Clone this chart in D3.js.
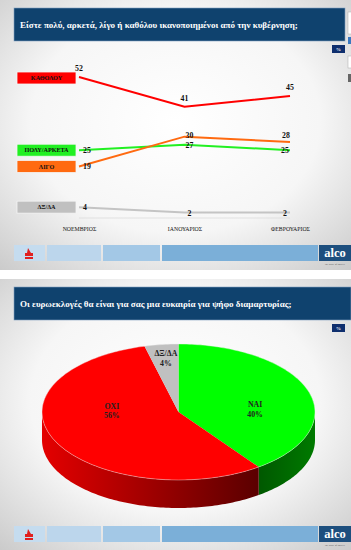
<!DOCTYPE html>
<html><head><meta charset="utf-8">
<script src="https://cdn.jsdelivr.net/npm/d3@7"></script>
<style>body{margin:0;background:#fff}svg{display:block}text{font-family:"Liberation Serif","DejaVu Serif",serif}</style>
</head><body>
<svg id="c" width="351" height="550"></svg>
<script>
// ---- data ----
const title1 = "Είστε πολύ, αρκετά, λίγο ή καθόλου ικανοποιημένοι από την κυβέρνηση;";
const title2 = "Οι ευρωεκλογές θα είναι για σας μια ευκαιρία για ψήφο διαμαρτυρίας;";
const months = ["ΝΟΕΜΒΡΙΟΣ", "ΙΑΝΟΥΑΡΙΟΣ", "ΦΕΒΡΟΥΑΡΙΟΣ"];
const seriesNames = ["ΚΑΘΟΛΟΥ", "ΠΟΛΥ/ΑΡΚΕΤΑ", "ΛΙΓΟ", "ΔΞ/ΔΑ"];
const katholou = [52, 41, 45];
const polyArketa = [25, 27, 25];
const ligo = [19, 30, 28];
const dxda = [4, 2, 2];
const seriesColors = ["#ff0000", "#22f022", "#ff6a10", "#c4c4c4"];
const pieLabels = ["ΝΑΙ", "ΟΧΙ", "ΔΞ/ΔΑ"];
const pieValues = [40, 56, 4];
const pieColors = ["#00ff00", "#ff0000", "#c0c0c0"];

const svg = d3.select("#c");
const defs = svg.append("defs");

const rg = defs.append("radialGradient").attr("id","bg").attr("cx","50%").attr("cy","45%").attr("r","75%");
rg.append("stop").attr("offset","0%").attr("stop-color","#ffffff");
rg.append("stop").attr("offset","55%").attr("stop-color","#f6f6f6");
rg.append("stop").attr("offset","100%").attr("stop-color","#cacaca");
const lg = defs.append("linearGradient").attr("id","redside").attr("x1","0").attr("x2","1").attr("y1","0").attr("y2","0");
lg.append("stop").attr("offset","0%").attr("stop-color","#e40000");
lg.append("stop").attr("offset","100%").attr("stop-color","#5a0000");
const gg = defs.append("linearGradient").attr("id","greenside").attr("x1","0").attr("x2","1").attr("y1","0").attr("y2","0");
gg.append("stop").attr("offset","0%").attr("stop-color","#005800");
gg.append("stop").attr("offset","100%").attr("stop-color","#007a00");

function panel(y0, h, title, headerW) {
  svg.append("rect").attr("x",0).attr("y",y0).attr("width",351).attr("height",h).attr("fill","url(#bg)");
  svg.append("rect").attr("x",14).attr("y",y0+8).attr("width",headerW).attr("height",33).attr("fill","#0f426e")
    .attr("stroke","#7f9fbf").attr("stroke-width",0.6);
  svg.append("text").attr("x",20).attr("y",y0+28).attr("fill","#fff").attr("font-size",9).attr("font-weight","bold").text(title);
  svg.append("rect").attr("x",332).attr("y",y0+45).attr("width",13).attr("height",8).attr("fill","#0f2f6e");
  svg.append("text").attr("x",338.5).attr("y",y0+51).attr("text-anchor","middle").attr("fill","#fff").attr("font-size",5).attr("font-weight","bold").text("%");
}
function footer(y0) {
  const segs = [[14,31,"#c5dcef"],[47,54,"#bcd6ec"],[103,57,"#a3c8e6"],[162,156,"#7bafd8"]];
  segs.forEach(s => svg.append("rect").attr("x",s[0]).attr("y",y0).attr("width",s[1]).attr("height",16).attr("fill",s[2]));
  svg.append("rect").attr("x",319).attr("y",y0).attr("width",32).attr("height",16).attr("fill","#1d4f7e");
  svg.append("text").attr("x",335).attr("y",y0+12).attr("text-anchor","middle").attr("fill","#fff").attr("font-size",12.5).attr("font-weight","bold").text("alco");
  svg.append("text").attr("x",335).attr("y",y0+19.5).attr("text-anchor","middle").attr("fill","#555").attr("font-size",2.6).text("the pulse of society");
  const lx = 29, ly = y0+3;
  svg.append("path").attr("d",`M${lx-1},${ly} L${lx+2},${ly+5} L${lx+4},${ly+5} L${lx+4},${ly+8} L${lx-4},${ly+8} L${lx-4},${ly+5} L${lx-2},${ly+5} Z`).attr("fill","#e02020");
  svg.append("rect").attr("x",lx-4).attr("y",ly+9).attr("width",8).attr("height",2).attr("fill","#e02020");
}

// ---------- Panel 1 ----------
panel(0, 270, title1, 331);
svg.append("rect").attr("x",348).attr("y",12).attr("width",5).attr("height",22).attr("fill","#fff").attr("stroke","#aaa").attr("stroke-width",0.5);
svg.append("rect").attr("x",348).attr("y",37).attr("width",5).attr("height",7).attr("fill","#3a78c0");
svg.append("rect").attr("x",348).attr("y",56).attr("width",5).attr("height",12).attr("fill","#fff").attr("stroke","#aaa").attr("stroke-width",0.5);
svg.append("rect").attr("x",348).attr("y",74).attr("width",5).attr("height",8).attr("fill","#666");

const x = d3.scalePoint().domain(months).range([79, 290]);
const y = d3.scaleLinear().domain([0, 52]).range([218, 77]);
const allSeries = [katholou, polyArketa, ligo, dxda];

const ax = svg.append("g").attr("transform","translate(0,218)").call(d3.axisBottom(x).tickSize(0).tickPadding(9));
ax.select(".domain").attr("stroke","#dcdcdc").attr("stroke-width",0.8).attr("d","M79,0H290");
ax.selectAll("text").attr("font-family","Liberation Serif").attr("font-size",5.8).attr("fill","#111");

const line = d3.line().x((d,i)=>x(months[i])).y(d=>y(d));
allSeries.forEach((s,k) => {
  svg.append("path").datum(s).attr("d",line).attr("fill","none").attr("stroke",seriesColors[k]).attr("stroke-width",2);
});

const legendY = [katholou[0], polyArketa[0], ligo[0], dxda[0]];
seriesNames.forEach((n,k) => {
  const yy = k===0 ? 78 : y(legendY[k]);
  svg.append("rect").attr("x",17).attr("y",yy-6).attr("width",59).attr("height",12).attr("fill",k===3?"#c0c0c0":seriesColors[k])
    .attr("stroke","#f4f4f4").attr("stroke-width",0.8);
  svg.append("text").attr("x",46.5).attr("y",yy+2.2).attr("text-anchor","middle").attr("font-size",6.2).attr("font-weight","bold").attr("fill","#111").text(n);
});

function vlab(v, i, dx, dy) {
  svg.append("text").attr("x",x(months[i])+dx).attr("y",y(v)+dy).attr("text-anchor","middle")
    .attr("font-size",7.8).attr("font-weight","bold").attr("fill","#111").text(v);
}
katholou.forEach((v,i)=>vlab(v,i,0,-6));
polyArketa.forEach((v,i)=>vlab(v,i,[8,5,-5][i],3));
ligo.forEach((v,i)=>vlab(v,i,[8,5,-4][i],[3,1,-4][i]));
dxda.forEach((v,i)=>vlab(v,i,[6,5,-5][i],3));

// ---------- Panel 2 ----------
svg.append("rect").attr("x",0).attr("y",270).attr("width",351).attr("height",9).attr("fill","#fff");
panel(279, 271, title2, 337);

const cx = 178.5, cy = 412, rx = 136.5, ry = 68, depth = 28;
const pie = d3.pie().sort(null).value(d=>d)(pieValues);
const pt = (a, dy=0) => [cx + rx*Math.sin(a), cy - ry*Math.cos(a) + dy];
function arcPts(a0, a1, dy) {
  const n = Math.max(2, Math.ceil((a1-a0)/0.02));
  return d3.range(n+1).map(i => pt(a0 + (a1-a0)*i/n, dy));
}
pie.forEach((p,k) => {
  const a0 = Math.max(p.startAngle, Math.PI/2), a1 = Math.min(p.endAngle, 3*Math.PI/2);
  if (a1 <= a0) return;
  const top = arcPts(a0, a1, 0), bot = arcPts(a0, a1, depth).reverse();
  const fill = k===0 ? "url(#greenside)" : k===1 ? "url(#redside)" : "#909090";
  svg.append("path").attr("d", "M" + top.concat(bot).map(q=>q.join(",")).join("L") + "Z").attr("fill", fill);
});
pie.forEach((p,k) => {
  const pts = [[cx,cy]].concat(arcPts(p.startAngle, p.endAngle, 0));
  svg.append("path").attr("d","M"+pts.map(q=>q.join(",")).join("L")+"Z").attr("fill",pieColors[k]);
});
svg.append("ellipse").attr("cx",cx).attr("cy",cy).attr("rx",rx).attr("ry",ry).attr("fill","none").attr("stroke","#eee").attr("stroke-width",0.4);
const labR = [[0.59,0.12],[0.54,-0.05],[0.74,0.8]];
pie.forEach((p,k) => {
  const m = (p.startAngle+p.endAngle)/2;
  const lx = cx + labR[k][0]*rx*Math.sin(m), ly = cy - labR[k][1]*ry*Math.cos(m);
  const t = svg.append("text").attr("text-anchor","middle").attr("font-size",7.8).attr("font-weight","bold").attr("fill","#222");
  t.append("tspan").attr("x",lx).attr("y",ly-2).text(pieLabels[k]);
  t.append("tspan").attr("x",lx).attr("y",ly+7.5).text(pieValues[k]+"%");
});

footer(245);
footer(526);
</script>
</body></html>
